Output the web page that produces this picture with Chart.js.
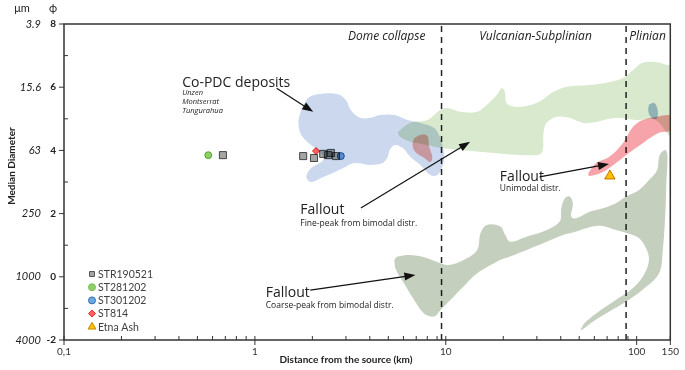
<!DOCTYPE html>
<html>
<head>
<meta charset="utf-8">
<script src="https://cdn.jsdelivr.net/npm/chart.js@4.4.0/dist/chart.umd.min.js"></script>
<style>
  html, body { margin: 0; padding: 0; background: #fff; }
</style>
</head>
<body>
<canvas id="grainChart" width="685" height="370"></canvas>
<script>
// shaded fields, [distance km, phi]
const coPdcArea = [[1.75,5.28],[1.90,5.66],[2.14,5.78],[2.72,5.78],[3.0,5.59],[3.18,5.28],[3.55,5.03],[4.04,5.03],[4.51,5.12],[5.39,5.12],[6.30,4.96],[7.36,4.87],[8.7,4.71],[9.35,4.39],[9.81,3.85],[9.57,3.47],[9.02,3.22],[8.30,3.22],[7.36,3.54],[6.53,3.79],[5.93,4.08],[5.39,4.17],[5.08,4.01],[4.96,3.79],[4.67,3.60],[4.04,3.54],[3.34,3.60],[2.96,3.47],[2.63,3.32],[2.22,3.13],[1.97,3.00],[1.86,3.16],[1.97,3.44],[2.28,3.70],[2.20,3.95],[1.97,4.17],[1.75,4.49],[1.69,4.90]];
const fineFalloutArea = [[5.6,4.58],[6.5,4.87],[8.0,4.96],[9.35,5.28],[10.2,5.34],[11.9,5.22],[14.6,5.22],[16.4,5.44],[18.5,5.75],[19.6,5.97],[20.4,5.85],[20.8,5.50],[23.5,5.37],[29.9,5.50],[36.6,5.85],[42.8,6.01],[56.4,6.07],[71.6,6.16],[84.7,6.29],[95.5,6.54],[107.6,6.77],[125.6,6.80],[145,6.70],[152,6.68],[152,4.45],[125.6,4.96],[98.9,4.96],[77.9,5.03],[61.3,4.90],[52.5,4.87],[44.4,5.03],[37.9,5.06],[33.7,4.87],[32.5,4.55],[31.7,3.92],[26.5,3.85],[17.9,3.92],[11.9,4.01],[9.35,4.08],[8.0,4.17],[6.53,4.27],[5.72,4.45]];
const nearPinkArea = [[6.84,4.39],[7.36,4.49],[8.0,4.46],[8.19,4.11],[8.5,3.79],[8.3,3.63],[7.72,3.76],[6.93,3.95],[6.69,4.17]];
const unimodalArea = [[55.7,3.28],[61.3,3.60],[71.6,3.79],[84.7,4.23],[95.5,4.74],[107.6,4.96],[125.6,5.06],[152,5.09],[152,4.65],[130,4.55],[107.6,4.23],[91,3.92],[77.9,3.60],[66.6,3.32],[56.4,3.19]];
const blueSpotArea = [[116,5.45],[124,5.5],[129,5.25],[127,5.0],[119,5.05],[115,5.25]];
const coarseFalloutArea = [[5.37,0.53],[5.59,0.64],[6.56,0.69],[8.0,0.59],[9.39,0.43],[10.4,0.37],[12.4,0.53],[14.6,0.85],[15.2,1.38],[16.4,1.64],[19.3,1.59],[20.5,1.32],[21.7,1.11],[26.5,1.27],[32.4,1.43],[39.5,1.75],[40.3,2.17],[42.0,2.48],[44.5,2.54],[46.3,2.33],[45.4,1.90],[48.2,1.85],[56.6,2.06],[66.4,2.17],[77.9,2.33],[87.8,2.54],[103,2.75],[116,3.06],[128,3.38],[131,3.80],[136,3.96],[142,4.01],[145,3.80],[143,2.96],[141,1.90],[137,0.85],[131,0.11],[107,-0.42],[87.8,-0.79],[71.9,-1.10],[58.9,-1.42],[51.2,-1.68],[53.3,-1.47],[61.3,-1.16],[77.9,-0.73],[95.0,-0.37],[109,0.06],[116,0.53],[112,0.90],[103,1.22],[91.4,1.36],[77.9,1.48],[66.4,1.61],[56.6,1.57],[48.2,1.43],[41.1,1.32],[32.4,1.06],[26.5,0.85],[21.7,0.64],[18.5,0.48],[14.6,0.11],[12.4,-0.31],[10.6,-0.73],[9.39,-1.05],[8.67,-1.26],[7.69,-1.16],[6.82,-0.73],[6.05,-0.21],[5.48,0.22]];

// samples
const str190521 = [[0.68,3.85],[1.79,3.82],[2.04,3.76],[2.28,3.89],[2.42,3.85],[2.50,3.92],[2.66,3.82]];
const st281202 = [[0.57,3.85]];
const st301202 = [[2.82,3.82]];
const st814 = [[2.09,3.98]];
const etnaAsh = [[72.4,3.19]];

// eruption regimes
const regimeBounds = [9.5, 88];
const regimeNames = ["Dome collapse", "Vulcanian-Subplinian", "Plinian"];
const regimeLabelX = [4.9, 29.5, 114];

// axis ticks
const phiTicks = [-2, 0, 2, 4, 6, 8];
const umLabels = ["4000", "1000", "250", "63", "15.6", "3.9"];
const xLabelled = [0.1, 1, 10, 100, 150];
const xMinor = [0.2,0.3,0.4,0.5,0.6,0.7,0.8,0.9,2,3,4,5,6,7,8,9,20,30,40,50,60,70,80,90];

const FONT = "Lato, 'Open Sans', sans-serif";
const TXT = "'Open Sans', Lato, sans-serif";

const toXY = (arr) => arr.map(([x, y]) => ({ x: x, y: y }));

function area(data, color, order) {
  return {
    data: toXY(data.concat([data[0]])),
    showLine: true,
    fill: "shape",
    backgroundColor: color,
    borderWidth: 0,
    borderColor: "rgba(0,0,0,0)",
    pointRadius: 0,
    tension: 0.35,
    order: order,
  };
}

function samples(label, data, style, fillColor, edge, r) {
  return {
    label: label,
    data: toXY(data),
    pointStyle: style,
    pointRadius: r,
    pointBackgroundColor: fillColor,
    pointBorderColor: edge,
    pointBorderWidth: 1,
    showLine: false,
    order: 0,
  };
}

// fills are multiplied over each other, like the overlapping fields in the figure
const datasets = [
  area(coarseFalloutArea, "rgb(197,207,190)", 7),
  area(coPdcArea, "rgb(203,216,238)", 6),
  area(fineFalloutArea, "rgb(216,233,205)", 5),
  area(blueSpotArea, "rgb(170,195,225)", 4),
  area(nearPinkArea, "rgb(250,180,172)", 3),
  area(unimodalArea, "rgb(246,164,170)", 3),
];
regimeBounds.forEach((b) => {
  datasets.push({
    data: [{ x: b, y: -2 }, { x: b, y: 8 }],
    showLine: true,
    borderColor: "#222",
    borderWidth: 1.5,
    borderDash: [6, 5],
    pointRadius: 0,
    order: 1,
  });
});
const legendSets = [
  samples("STR190521", str190521, "rect", "rgb(165,165,165)", "#555", 5),
  samples("ST281202", st281202, "circle", "#8fcf6a", "#7cbf58", 3.5),
  samples("ST301202", st301202, "circle", "#6fa8e0", "#2f6fb5", 3.5),
  samples("ST814", st814, "rectRot", "#ff6060", "#e02b2b", 3.5),
  samples("Etna Ash", etnaAsh, "triangle", "#ffc000", "#c58a00", 6),
];
legendSets.forEach((d) => datasets.push(d));

const annotations = [
  { text: "Co-PDC deposits", x: 0.416, y: 6.13, font: "14px " + TXT },
  { text: "Unzen", x: 0.416, y: 5.82, font: "italic 7.5px " + TXT },
  { text: "Montserrat", x: 0.416, y: 5.53, font: "italic 7.5px " + TXT },
  { text: "Tungurahua", x: 0.416, y: 5.25, font: "italic 7.5px " + TXT },
  { text: "Fallout", x: 1.73, y: 2.11, font: "14px " + TXT },
  { text: "Fine-peak from bimodal distr.", x: 1.73, y: 1.70, font: "8.5px " + TXT },
  { text: "Fallout", x: 1.14, y: -0.51, font: "14px " + TXT },
  { text: "Coarse-peak from bimodal distr.", x: 1.14, y: -0.92, font: "8.5px " + TXT },
  { text: "Fallout", x: 19.2, y: 3.16, font: "14px " + TXT },
  { text: "Unimodal distr.", x: 19.2, y: 2.78, font: "8.5px " + TXT },
];
const arrows = [
  { from: [1.30, 5.97], to: [2.02, 5.22] },
  { from: [3.59, 2.18], to: [13.4, 4.27] },
  { from: [1.95, -0.42], to: [6.93, 0.06] },
  { from: [31.0, 3.16], to: [71.6, 3.57] },
];

const overlay = {
  id: "overlay",
  beforeDatasetsDraw(chart) {
    chart.ctx.save();
    chart.ctx.globalCompositeOperation = "multiply";
  },
  afterDatasetsDraw(chart) {
    chart.ctx.restore();
  },
  afterDraw(chart) {
    const ctx = chart.ctx;
    const xs = chart.scales.x, ys = chart.scales.y;
    const a = chart.chartArea;
    const px = (v) => xs.getPixelForValue(v);
    const py = (v) => ys.getPixelForValue(v);
    ctx.save();

    // frame
    ctx.strokeStyle = "#333";
    ctx.lineWidth = 1.5;
    ctx.strokeRect(a.left, a.top, a.right - a.left, a.bottom - a.top);

    // ticks
    ctx.lineWidth = 1;
    ctx.beginPath();
    xLabelled.forEach((v) => { ctx.moveTo(px(v), a.bottom - 4); ctx.lineTo(px(v), a.bottom + 5); });
    xMinor.forEach((v) => { ctx.moveTo(px(v), a.bottom - 4); ctx.lineTo(px(v), a.bottom); });
    for (let v = -2; v <= 8; v++) {
      if (v % 2 === 0) { ctx.moveTo(a.left - 5, py(v)); ctx.lineTo(a.left, py(v)); }
      else { ctx.moveTo(a.left, py(v)); ctx.lineTo(a.left + 4, py(v)); }
    }
    ctx.stroke();

    // um labels
    ctx.fillStyle = "#222";
    ctx.font = "italic 11px " + FONT;
    ctx.textAlign = "right";
    ctx.textBaseline = "middle";
    phiTicks.forEach((v, i) => ctx.fillText(umLabels[i], 41, py(v)));
    ctx.textAlign = "center";
    ctx.font = "11px " + FONT;
    ctx.fillText("\u03bcm", 22, 8);
    ctx.fillText("\u03d5", 53, 8);

    // axis titles
    ctx.font = "bold 10px " + FONT;
    ctx.fillText("Distance from the source (km)", 346, 360);
    ctx.save();
    ctx.translate(12, 166);
    ctx.rotate(-Math.PI / 2);
    ctx.fillText("Median Diameter", 0, 0);
    ctx.restore();

    // regime names
    ctx.font = "italic 12px " + TXT;
    regimeNames.forEach((n, i) => ctx.fillText(n, px(regimeLabelX[i]), a.top + 13));

    // annotations
    ctx.textAlign = "left";
    annotations.forEach((t) => {
      ctx.font = t.font;
      ctx.fillText(t.text, px(t.x), py(t.y));
    });

    // arrows
    ctx.strokeStyle = "#111";
    ctx.fillStyle = "#111";
    ctx.lineWidth = 1.2;
    arrows.forEach((r) => {
      const x1 = px(r.from[0]), y1 = py(r.from[1]);
      const x2 = px(r.to[0]), y2 = py(r.to[1]);
      const ang = Math.atan2(y2 - y1, x2 - x1);
      ctx.beginPath();
      ctx.moveTo(x1, y1);
      ctx.lineTo(x2 - 8 * Math.cos(ang), y2 - 8 * Math.sin(ang));
      ctx.stroke();
      ctx.beginPath();
      ctx.moveTo(x2, y2);
      ctx.lineTo(x2 - 11 * Math.cos(ang) + 4 * Math.sin(ang), y2 - 11 * Math.sin(ang) - 4 * Math.cos(ang));
      ctx.lineTo(x2 - 11 * Math.cos(ang) - 4 * Math.sin(ang), y2 - 11 * Math.sin(ang) + 4 * Math.cos(ang));
      ctx.closePath();
      ctx.fill();
    });

    // legend
    ctx.font = "10.5px " + FONT;
    ctx.textBaseline = "middle";
    legendSets.forEach((d, i) => {
      const lx = a.left + 28, ly = a.bottom - 66 + i * 13.2;
      ctx.fillStyle = d.pointBackgroundColor;
      ctx.strokeStyle = d.pointBorderColor;
      ctx.lineWidth = 1;
      Chart.helpers.drawPoint(ctx, { pointStyle: d.pointStyle, radius: d.pointStyle === "triangle" ? 4.5 : 3.5, borderWidth: 1, rotation: 0 }, lx, ly);
      ctx.fillStyle = "#404040";
      ctx.fillText(d.label, lx + 6, ly + 0.5);
    });
    ctx.restore();
  },
};

new Chart(document.getElementById("grainChart"), {
  type: "scatter",
  data: { datasets: datasets },
  options: {
    responsive: false,
    animation: false,
    layout: { padding: { top: 24, right: 11, left: 0, bottom: 0 } },
    plugins: { legend: { display: false }, tooltip: { enabled: false } },
    scales: {
      x: {
        type: "logarithmic",
        min: 0.1,
        max: 150,
        afterFit: (s) => { s.height = 30; },
        afterBuildTicks: (s) => { s.ticks = xLabelled.map((v) => ({ value: v })); },
        ticks: {
          autoSkip: false,
          maxRotation: 0,
          padding: 6,
          color: "#333",
          font: { family: FONT, size: 10 },
          callback: (v) => String(v).replace(".", ","),
        },
        grid: { display: false, drawTicks: false },
        border: { display: false },
      },
      y: {
        min: -2,
        max: 8,
        afterFit: (s) => { s.width = 64; },
        afterBuildTicks: (s) => { s.ticks = phiTicks.map((v) => ({ value: v })); },
        ticks: { padding: 8, color: "#222", font: { family: FONT, size: 10, weight: "bold" } },
        grid: { display: false, drawTicks: false },
        border: { display: false },
      },
    },
  },
  plugins: [overlay],
});
</script>
</body>
</html>
